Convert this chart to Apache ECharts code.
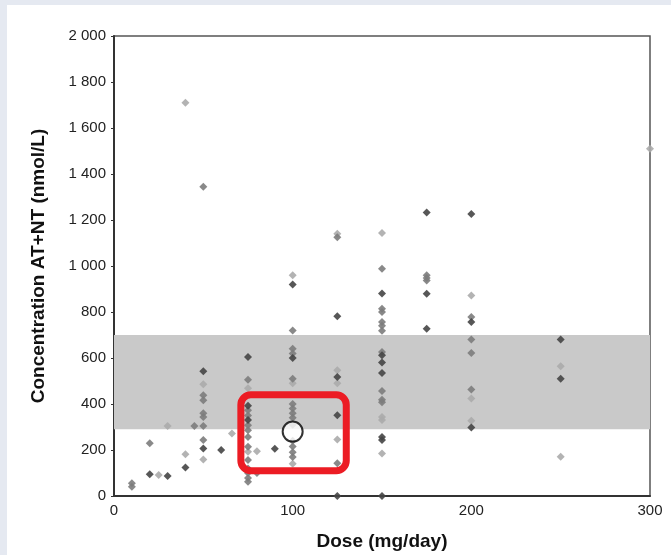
<!DOCTYPE html>
<html>
<head>
<meta charset="utf-8">
<script src="https://cdn.jsdelivr.net/npm/echarts@6/dist/echarts.min.js"></script>
<style>
  html, body { margin: 0; padding: 0; background: #e5e9f1; }
  #chart { position: absolute; left: 7px; top: 5px; width: 664px; height: 550px; background: #fff; }
</style>
</head>
<body>
<div id="chart"></div>
<script>
// [dose mg/day, concentration nmol/L], split by marker shade
var darkPoints = [
  [20, 95], [30, 87], [40, 124], [50, 542], [50, 207], [60, 200],
  [75, 604], [75, 392], [75, 330], [90, 205],
  [100, 920], [100, 600],
  [125, 781], [125, 517], [125, 351], [125, 0],
  [150, 880], [150, 612], [150, 580], [150, 535], [150, 257], [150, 243], [150, 0],
  [175, 1233], [175, 879], [175, 727],
  [200, 1226], [200, 756], [200, 298],
  [250, 680], [250, 510]
];
var midPoints = [
  [10, 40], [10, 55], [20, 229], [45, 304],
  [50, 1345], [50, 438], [50, 416], [50, 360], [50, 344], [50, 304], [50, 243],
  [75, 505], [75, 373], [75, 350], [75, 308], [75, 286], [75, 257], [75, 214],
  [75, 156], [75, 120], [75, 100], [75, 78], [75, 62], [80, 100],
  [100, 720], [100, 640], [100, 620], [100, 510], [100, 400], [100, 380], [100, 360],
  [100, 340], [100, 310], [100, 240], [100, 215], [100, 190], [100, 170],
  [125, 1125], [125, 142],
  [150, 988], [150, 814], [150, 800], [150, 756], [150, 740], [150, 718], [150, 626],
  [150, 457], [150, 418], [150, 408],
  [175, 960], [175, 948], [175, 937],
  [200, 778], [200, 680], [200, 622], [200, 463]
];
var lightPoints = [
  [25, 91], [30, 304], [40, 1710], [40, 181], [50, 486], [50, 159], [66, 272],
  [75, 468], [75, 192], [80, 195],
  [100, 960], [100, 490], [100, 140],
  [125, 1140], [125, 547], [125, 490], [125, 246],
  [150, 1144], [150, 344], [150, 330], [150, 185],
  [200, 872], [200, 424], [200, 327],
  [250, 564], [250, 171],
  [300, 1510]
];
var highlightPoint = [[100, 280]];
var targetRange = [290, 700];          // shaded therapeutic range
var highlightBox = [[71, 440], [130, 110]]; // red annotation box corners (data units)
var yTicks = { min: 0, max: 2000, step: 200 };
var xTicks = { min: 0, max: 300, step: 100 };

var chart = echarts.init(document.getElementById('chart'));

function pointSeries(name, data, color) {
  return {
    name: name,
    type: 'scatter',
    data: data,
    symbol: 'diamond',
    symbolSize: 8,
    itemStyle: { color: color, opacity: 0.9 },
    z: 3
  };
}

chart.setOption({
  animation: false,
  textStyle: { fontFamily: 'Liberation Sans, Arial, sans-serif' },
  grid: {
    left: 107, top: 31, width: 536, height: 460,
    outerBoundsMode: 'none',
    show: true, borderColor: '#555', borderWidth: 1.5, backgroundColor: 'transparent'
  },
  xAxis: {
    type: 'value',
    min: xTicks.min, max: xTicks.max, interval: xTicks.step,
    name: 'Dose (mg/day)',
    nameLocation: 'middle',
    nameGap: 36,
    nameTextStyle: { fontSize: 19, fontWeight: 'bold', color: '#111' },
    axisLine: { lineStyle: { color: '#333', width: 2 } },
    axisTick: { show: false },
    axisLabel: { fontSize: 15, color: '#222', margin: 7 },
    splitLine: { show: false }
  },
  yAxis: {
    type: 'value',
    min: yTicks.min, max: yTicks.max, interval: yTicks.step,
    name: 'Concentration AT+NT (nmol/L)',
    nameLocation: 'middle',
    nameGap: 66,
    nameTextStyle: { fontSize: 19, fontWeight: 'bold', color: '#111' },
    axisLine: { show: true, lineStyle: { color: '#333', width: 2 } },
    axisTick: { show: true, length: 3, lineStyle: { color: '#333' } },
    axisLabel: {
      fontSize: 15, color: '#222', margin: 8,
      formatter: function (v) {
        return v >= 1000 ? Math.floor(v / 1000) + ' ' + String(v % 1000).padStart(3, '0') : String(v);
      }
    },
    splitLine: { show: false }
  },
  series: [
    {
      type: 'scatter',
      data: [],
      silent: true,
      markArea: {
        silent: true,
        itemStyle: { color: '#c9c9c9' },
        data: [[{ yAxis: targetRange[0] }, { yAxis: targetRange[1] }]]
      },
      z: 1
    },
    pointSeries('light', lightPoints, '#ababab'),
    pointSeries('mid', midPoints, '#7c7c7c'),
    pointSeries('dark', darkPoints, '#454545'),
    {
      type: 'scatter',
      data: highlightPoint,
      symbol: 'circle',
      symbolSize: 20,
      itemStyle: { color: '#fff', borderColor: '#000', borderWidth: 2 },
      z: 6
    }
  ]
});

var p0 = chart.convertToPixel({ gridIndex: 0 }, highlightBox[0]);
var p1 = chart.convertToPixel({ gridIndex: 0 }, highlightBox[1]);
chart.setOption({
  graphic: [{
    type: 'rect',
    shape: { x: p0[0], y: p0[1], width: p1[0] - p0[0], height: p1[1] - p0[1], r: 10 },
    style: { fill: 'none', stroke: '#ec1c24', lineWidth: 7 },
    z: 5
  }]
});
</script>
</body>
</html>
